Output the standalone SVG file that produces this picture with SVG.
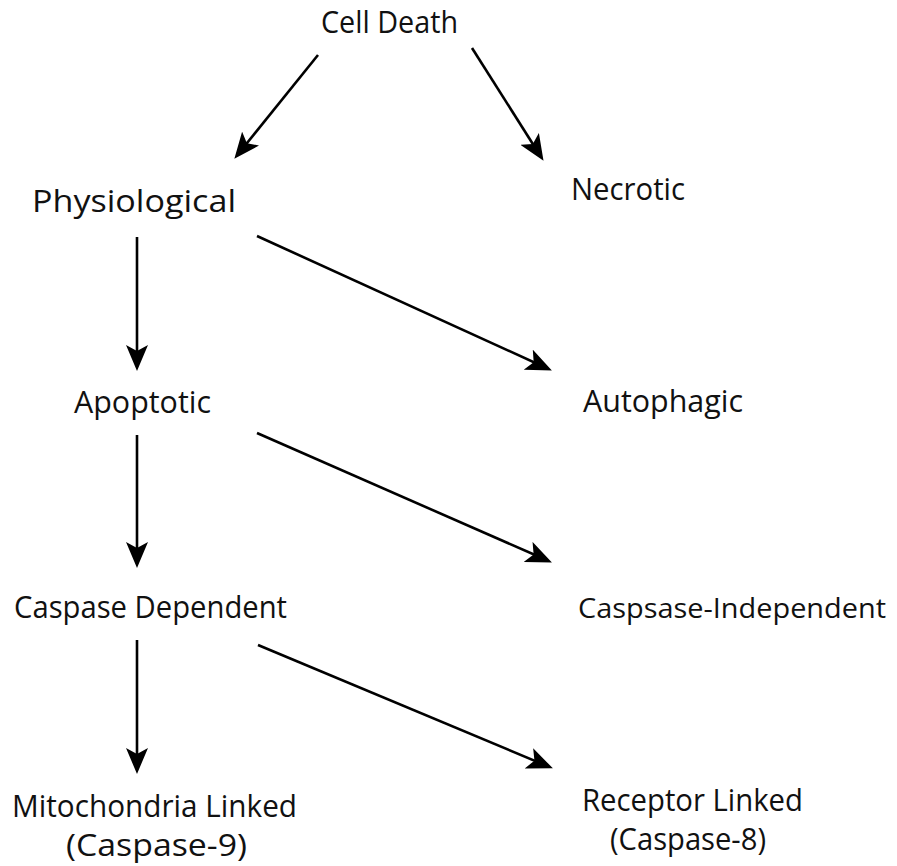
<svg xmlns="http://www.w3.org/2000/svg" width="897" height="866" viewBox="0 0 897 866">
<defs>
<marker id="ah" markerUnits="userSpaceOnUse" viewBox="0 0 26 22" refX="17" refY="11" markerWidth="26" markerHeight="22" orient="auto">
<path d="M0,0 L26,11 L0,22 L6,11 z" fill="#000"/>
</marker>
<style>
text{font-family:"Open Sans","Liberation Sans",sans-serif;font-size:31px;fill:#111}
.s{font-size:28px}
.c line{stroke:#000;stroke-width:2.6;marker-end:url(#ah)}
</style>
</defs>
<rect width="897" height="866" fill="#fff"/>
<g class="c" id="connectors">
<line x1="318" y1="55" x2="240" y2="151.8"/>
<line x1="472" y1="48" x2="538.7" y2="153.2"/>
<line x1="137" y1="237" x2="137" y2="362"/>
<line x1="257" y1="236" x2="543.7" y2="366.7"/>
<line x1="137" y1="435" x2="137" y2="559"/>
<line x1="257" y1="433" x2="543.7" y2="558.8"/>
<line x1="137" y1="640" x2="137" y2="765"/>
<line x1="258" y1="645" x2="544.6" y2="764.9"/>
</g>
<g id="celldeath"><text x="321" y="33" textLength="137" lengthAdjust="spacingAndGlyphs">Cell Death</text></g>
<g id="physiological"><text x="32" y="212" textLength="204" lengthAdjust="spacingAndGlyphs">Physiological</text></g>
<g id="necrotic"><text x="571" y="200" textLength="114" lengthAdjust="spacingAndGlyphs">Necrotic</text></g>
<g id="apoptotic"><text x="74" y="413" textLength="137" lengthAdjust="spacingAndGlyphs">Apoptotic</text></g>
<g id="autophagic"><text x="583" y="412" textLength="160" lengthAdjust="spacingAndGlyphs">Autophagic</text></g>
<g id="caspdep"><text x="14" y="618" textLength="273" lengthAdjust="spacingAndGlyphs">Caspase Dependent</text></g>
<g id="caspindep"><text class="s" x="578" y="618" textLength="308" lengthAdjust="spacingAndGlyphs">Caspsase-Independent</text></g>
<g id="mito"><text x="12" y="817" textLength="285" lengthAdjust="spacingAndGlyphs">Mitochondria Linked</text><text x="66" y="856" textLength="181" lengthAdjust="spacingAndGlyphs">(Caspase-9)</text></g>
<g id="receptor"><text x="582" y="811" textLength="221" lengthAdjust="spacingAndGlyphs">Receptor Linked</text><text x="610" y="850" textLength="156" lengthAdjust="spacingAndGlyphs">(Caspase-8)</text></g>
</svg>
